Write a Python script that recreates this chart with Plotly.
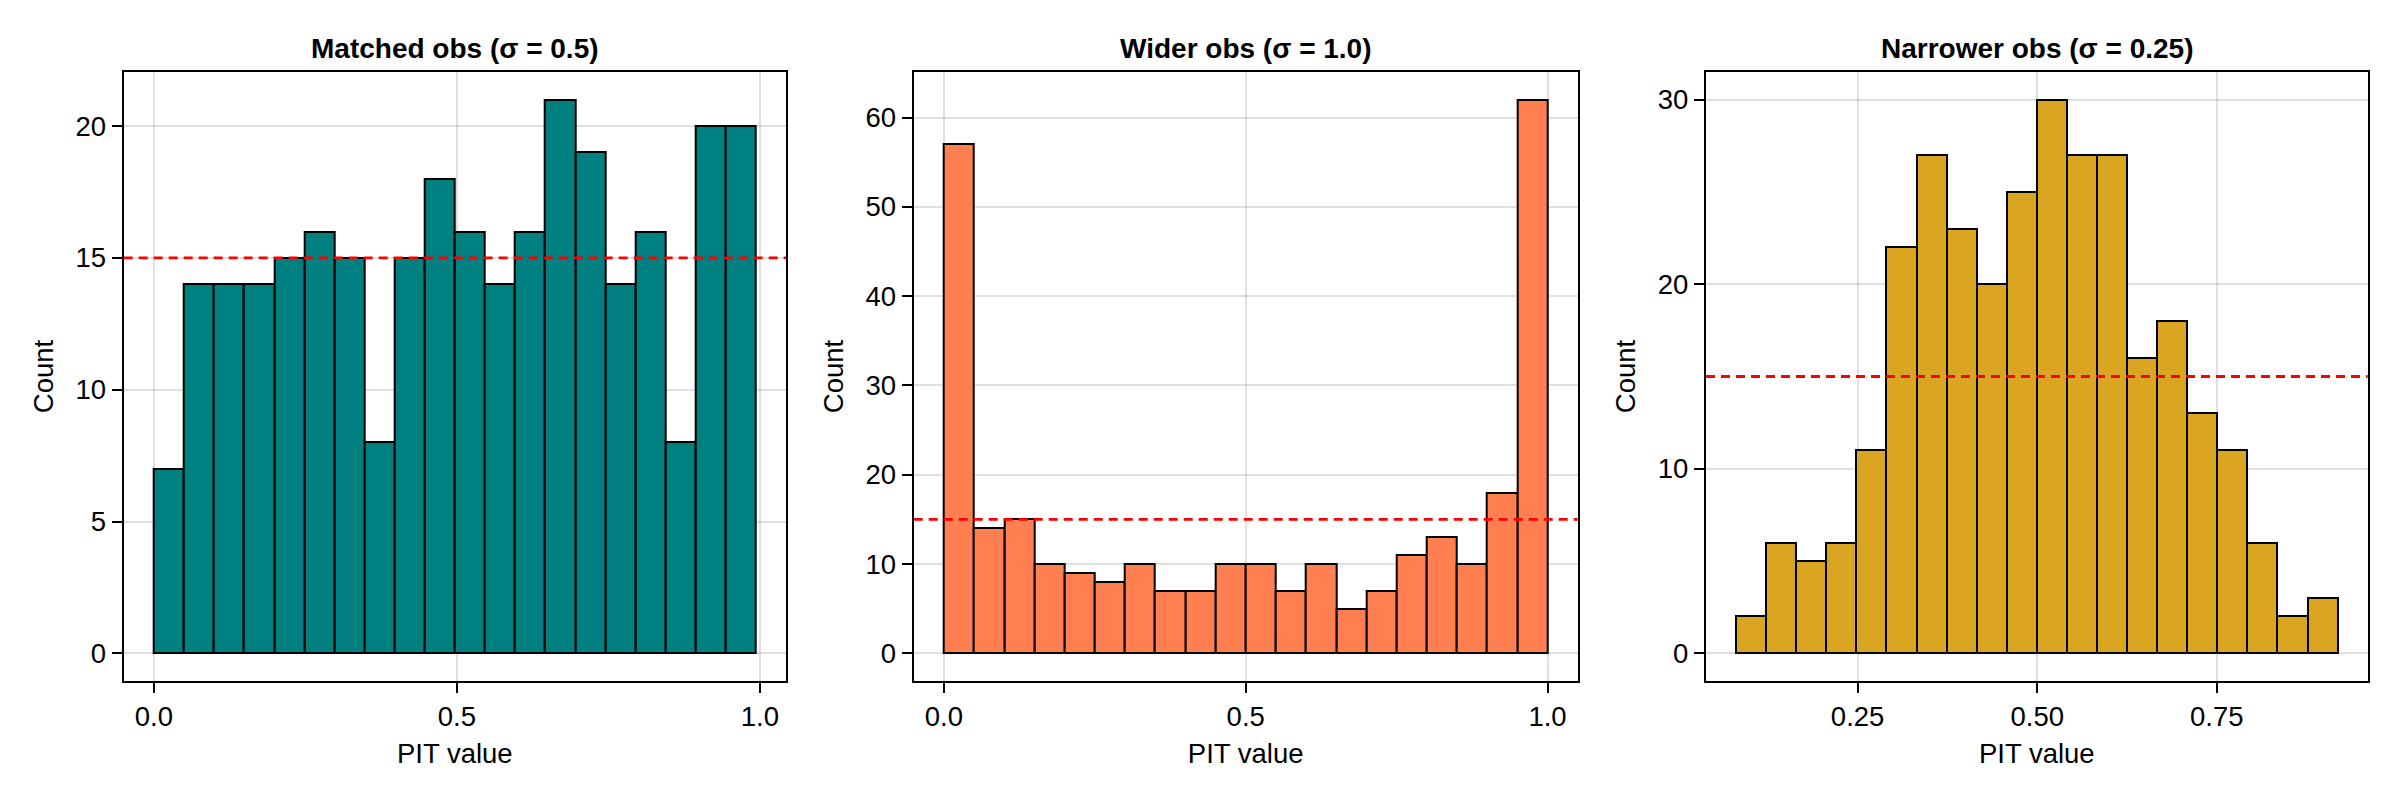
"""PIT histograms for three observation spreads"""

import numpy as np
import plotly.graph_objects as go

# panel titles
titles = ["Matched obs (σ = 0.5)", "Wider obs (σ = 1.0)", "Narrower obs (σ = 0.25)"]

# bin counts (20 equal-width bins each)
matched_counts = [7, 14, 14, 14, 15, 16, 15, 8, 15, 18, 16, 14, 16, 21, 19, 14, 16, 8, 20, 20]
wider_counts = [57, 14, 15, 10, 9, 8, 10, 7, 7, 10, 10, 7, 10, 5, 7, 11, 13, 10, 18, 62]
narrower_counts = [2, 6, 5, 6, 11, 22, 27, 23, 20, 25, 30, 27, 27, 16, 18, 13, 11, 6, 2, 3]

# histogram extent (min / max of the PIT samples)
matched_span = (0.0, 0.9934)
wider_span = (0.0, 1.0)
narrower_span = (0.0808, 0.9182)

# expected count per bin for a uniform PIT
expected_count = 15

# tick values / labels
matched_xticks = [0.0, 0.5, 1.0]
matched_xlabels = ["0.0", "0.5", "1.0"]
wider_xticks = [0.0, 0.5, 1.0]
wider_xlabels = ["0.0", "0.5", "1.0"]
narrower_xticks = [0.25, 0.5, 0.75]
narrower_xlabels = ["0.25", "0.50", "0.75"]
matched_yticks = [0, 5, 10, 15, 20]
wider_yticks = [0, 10, 20, 30, 40, 50, 60]
narrower_yticks = [0, 10, 20, 30]

colors = ["#008080", "#FF7F50", "#DAA520"]

FONT = "Liberation Sans, Arial, sans-serif"
FS = 27.5
W, H = 2400, 800
TOP, BOTTOM = 72, 681
X_DOMAINS = [(123.7, 786.0), (913.7, 1577.7), (1706.0, 2367.7)]

panels = [
    (matched_counts, matched_span, matched_xticks, matched_xlabels, matched_yticks),
    (wider_counts, wider_span, wider_xticks, wider_xlabels, wider_yticks),
    (narrower_counts, narrower_span, narrower_xticks, narrower_xlabels, narrower_yticks),
]

fig = go.Figure()
layout = {}
annotations = []
shapes = []

for i, (counts, span, xt, xl, yt) in enumerate(panels):
    n = i + 1
    xa = "x" if n == 1 else f"x{n}"
    ya = "y" if n == 1 else f"y{n}"
    edges = np.linspace(span[0], span[1], len(counts) + 1)
    centers = (edges[:-1] + edges[1:]) / 2
    width = edges[1] - edges[0]

    fig.add_trace(
        go.Bar(
            x=centers,
            y=counts,
            width=width,
            marker=dict(color=colors[i], line=dict(color="black", width=2)),
            xaxis=xa,
            yaxis=ya,
            showlegend=False,
        )
    )

    # Makie-style 5% padding around data
    dx = 0.05 * (span[1] - span[0])
    ymax = max(counts)
    dom = (X_DOMAINS[i][0] / W, X_DOMAINS[i][1] / W)

    axis_common = dict(
        showline=True,
        linecolor="black",
        linewidth=2.4,
        mirror=True,
        ticks="outside",
        ticklen=10,
        tickwidth=2,
        tickcolor="black",
        showgrid=True,
        gridcolor="rgba(0,0,0,0.12)",
        gridwidth=1.6,
        zeroline=False,
        tickfont=dict(family=FONT, size=FS, color="black"),
    )

    layout[f"xaxis{'' if n == 1 else n}"] = dict(
        axis_common,
        domain=dom,
        anchor=ya,
        range=[span[0] - dx, span[1] + dx],
        tickvals=xt,
        ticktext=xl,
        title=dict(text="PIT value", font=dict(family=FONT, size=FS, color="black"), standoff=13),
    )
    layout[f"yaxis{'' if n == 1 else n}"] = dict(
        axis_common,
        domain=(1 - BOTTOM / H, 1 - TOP / H),
        anchor=xa,
        range=[-0.05 * ymax, 1.05 * ymax],
        tickvals=yt,
        title=dict(text="Count", font=dict(family=FONT, size=FS, color="black"), standoff=14),
    )

    shapes.append(
        dict(
            type="line",
            xref=f"{xa} domain",
            yref=ya,
            x0=0,
            x1=1,
            y0=expected_count,
            y1=expected_count,
            line=dict(color="red", width=2.8, dash="9px,6px"),
        )
    )

    annotations.append(
        dict(
            text=f"<b>{titles[i]}</b>",
            xref="paper",
            yref="paper",
            x=sum(dom) / 2,
            y=1 - 48 / H,
            xanchor="center",
            yanchor="middle",
            showarrow=False,
            font=dict(family=FONT, size=28, color="black"),
        )
    )

fig.update_layout(
    **layout,
    shapes=shapes,
    annotations=annotations,
    width=W,
    height=H,
    margin=dict(l=0, r=0, t=0, b=0),
    paper_bgcolor="white",
    plot_bgcolor="white",
    bargap=0,
)

# drop the default page margin so the figure sits at the window origin
fig.write_html(
    "out.html",
    config={"displayModeBar": False},
    post_script="document.body.style.margin='0';",
)
